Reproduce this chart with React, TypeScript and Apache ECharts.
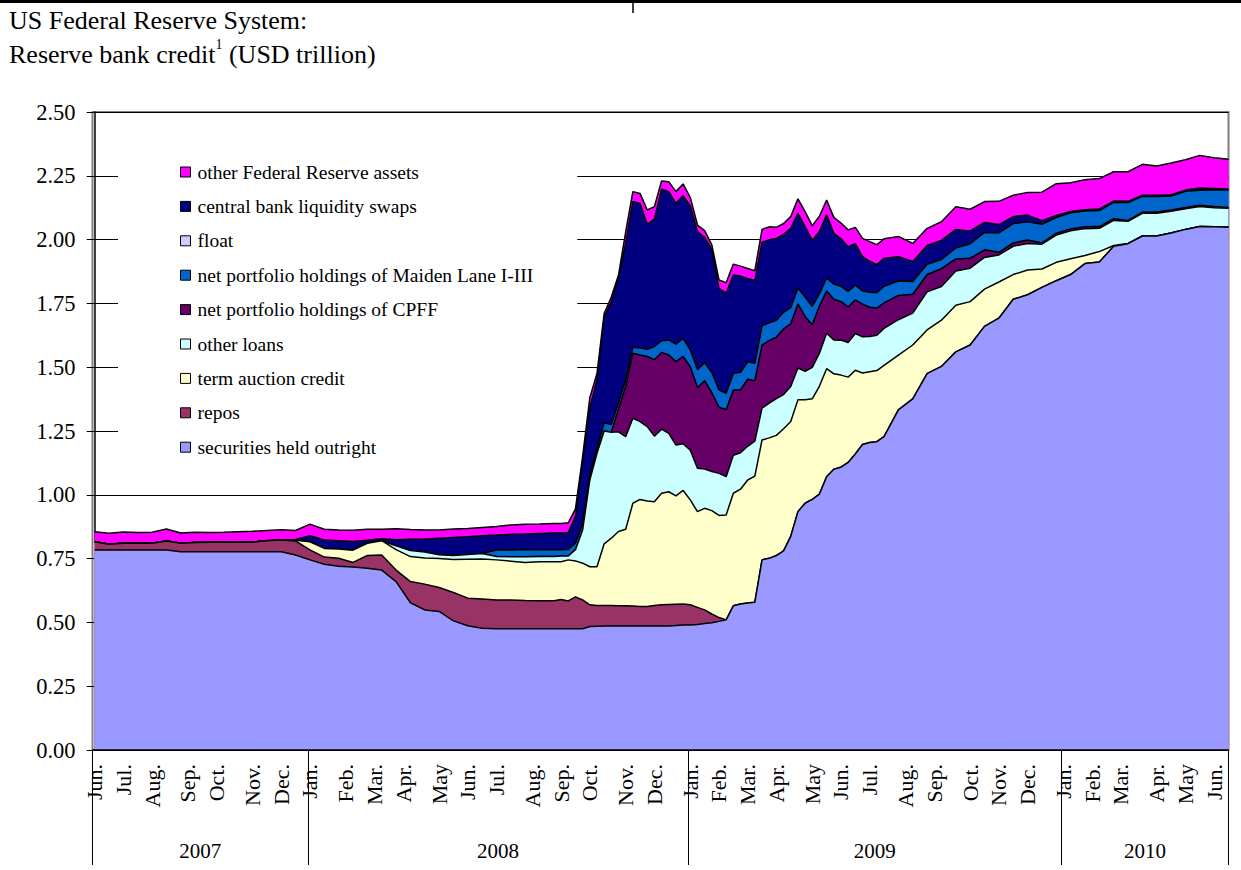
import React, { useEffect, useRef } from "react";
import * as echarts from "echarts";

// ---------- DATA (USD trillion) ----------
const START_DATE = "2007-06-06"; // first weekly observation (Wednesday)
const LAST_WEEK = 158; // 2010-06-16

const sampleDates = [
  "2007-06-06","2007-06-20","2007-07-04","2007-07-18","2007-08-01","2007-08-15","2007-08-29","2007-09-12","2007-09-26","2007-10-10","2007-10-24","2007-11-07","2007-11-21","2007-12-05","2007-12-19",
  "2008-01-02","2008-01-16","2008-01-30","2008-02-13","2008-02-27","2008-03-12","2008-03-26","2008-04-09","2008-04-23","2008-05-07","2008-05-21","2008-06-04","2008-06-18","2008-07-02","2008-07-16","2008-07-30","2008-08-13","2008-08-27",
  "2008-09-03","2008-09-10","2008-09-17","2008-09-24","2008-10-01","2008-10-08","2008-10-15","2008-10-22","2008-10-29","2008-11-05","2008-11-12","2008-11-19","2008-11-26","2008-12-03","2008-12-10","2008-12-17","2008-12-24","2008-12-31",
  "2009-01-07","2009-01-14","2009-01-21","2009-01-28","2009-02-04","2009-02-11","2009-02-18","2009-02-25","2009-03-04","2009-03-11","2009-03-18","2009-03-25","2009-04-01","2009-04-08","2009-04-15","2009-04-22","2009-04-29","2009-05-06","2009-05-13","2009-05-20","2009-05-27","2009-06-03","2009-06-10","2009-06-17","2009-06-24","2009-07-01","2009-07-08","2009-07-15",
  "2009-07-29","2009-08-12","2009-08-26","2009-09-09","2009-09-23","2009-10-07","2009-10-21","2009-11-04","2009-11-18","2009-12-02","2009-12-16","2009-12-30",
  "2010-01-13","2010-01-27","2010-02-10","2010-02-24","2010-03-10","2010-03-24","2010-04-07","2010-04-21","2010-05-05","2010-05-19","2010-06-02","2010-06-16",
];

const securities = [
  0.784,0.784,0.784,0.784,0.784,0.784,0.777,0.777,0.777,0.777,0.777,0.777,0.777,0.777,0.764,
  0.745,0.728,0.72,0.717,0.712,0.705,0.66,0.577,0.549,0.543,0.506,0.487,0.477,0.475,0.475,0.475,0.475,0.475,
  0.475,0.475,0.475,0.475,0.484,0.485,0.486,0.486,0.486,0.486,0.486,0.486,0.486,0.486,0.486,0.486,0.488,0.49,
  0.49,0.492,0.496,0.499,0.504,0.51,0.565,0.572,0.576,0.579,0.745,0.751,0.762,0.78,0.837,0.934,0.967,0.982,1.003,1.071,1.1,1.108,1.127,1.16,1.197,1.205,1.208,1.228,
  1.333,1.376,1.475,1.503,1.56,1.587,1.66,1.692,1.766,1.784,1.813,1.839,
  1.863,1.906,1.912,1.974,1.984,2.014,2.014,2.026,2.04,2.051,2.05,2.048,
];

const repos = [
  0.032,0.022,0.026,0.026,0.026,0.035,0.033,0.036,0.037,0.037,0.037,0.037,0.043,0.046,0.055,
  0.039,0.028,0.031,0.018,0.05,0.059,0.045,0.083,0.101,0.094,0.111,0.108,0.115,0.113,0.113,0.111,0.11,0.11,
  0.115,0.109,0.125,0.113,0.085,0.081,0.08,0.08,0.079,0.079,0.078,0.076,0.076,0.08,0.083,0.084,0.083,0.082,
  0.079,0.067,0.053,0.034,0.015,0,0,0,0,0,0,0,0,0,0,0,0,0,0,0,0,0,0,0,0,0,0,0,
  0,0,0,0,0,0,0,0,0,0,0,0,
  0,0,0,0,0,0,0,0,0,0,0,0,
];

const termAuctionCredit = [
  0,0,0,0,0,0,0,0,0,0,0,0,0,0,0.003,
  0.032,0.034,0.037,0.048,0.048,0.056,0.08,0.098,0.102,0.113,0.129,0.152,0.156,0.157,0.152,0.149,0.153,0.153,
  0.148,0.161,0.141,0.144,0.149,0.152,0.242,0.264,0.291,0.3,0.403,0.42,0.414,0.407,0.437,0.442,0.425,0.445,
  0.411,0.375,0.398,0.405,0.4,0.411,0.441,0.45,0.482,0.494,0.47,0.472,0.471,0.479,0.45,0.438,0.405,0.394,0.423,0.423,0.374,0.361,0.334,0.328,0.28,0.277,0.279,0.279,
  0.214,0.211,0.171,0.181,0.183,0.17,0.146,0.142,0.097,0.097,0.072,0.072,
  0.062,0.032,0.041,0.003,0.001,0,0,0,0,0,0,0,
];

const otherLoans = [
  0,0,0,0,0,0,0,0,0,0,0,0,0,0,0,
  0,0,0,0,0,0,0.015,0.024,0.024,0.015,0.016,0.019,0.022,0.013,0.017,0.022,0.02,0.02,
  0.022,0.015,0.044,0.13,0.34,0.445,0.442,0.415,0.391,0.363,0.333,0.305,0.291,0.257,0.251,0.229,0.199,0.183,
  0.195,0.17,0.154,0.153,0.165,0.15,0.149,0.143,0.132,0.137,0.125,0.136,0.144,0.134,0.137,0.125,0.112,0.123,0.129,0.139,0.133,0.137,0.136,0.144,0.142,0.138,0.138,0.145,
  0.139,0.125,0.149,0.132,0.134,0.131,0.124,0.106,0.111,0.104,0.097,0.107,
  0.11,0.105,0.091,0.098,0.087,0.089,0.089,0.085,0.081,0.079,0.075,0.075,
];

const cpff = [
  0,0,0,0,0,0,0,0,0,0,0,0,0,0,0,
  0,0,0,0,0,0,0,0,0,0,0,0,0,0,0,0,0,0,
  0,0,0,0,0,0,0,0,0.09,0.196,0.255,0.261,0.275,0.299,0.301,0.307,0.327,0.342,
  0.327,0.316,0.346,0.309,0.259,0.262,0.256,0.246,0.263,0.237,0.247,0.245,0.241,0.257,0.246,0.251,0.214,0.167,0.185,0.166,0.159,0.151,0.139,0.132,0.128,0.115,0.107,0.1,
  0.095,0.074,0.068,0.07,0.047,0.039,0.03,0.01,0.013,0.013,0.005,0.007,
  0.007,0.007,0.007,0.007,0.003,0.005,0.005,0.005,0.005,0.005,0.005,0.003,
];

const maidenLane = [
  0,0,0,0,0,0,0,0,0,0,0,0,0,0,0,
  0,0,0,0,0,0,0,0,0,0,0,0,0,0.026,0.027,0.029,0.027,0.027,
  0.025,0.026,0.025,0.026,0.02,0.017,0.032,0.03,0.025,0.026,0.023,0.027,0.028,0.052,0.046,0.059,0.068,0.071,
  0.066,0.07,0.071,0.079,0.068,0.065,0.065,0.069,0.068,0.068,0.075,0.07,0.066,0.065,0.063,0.062,0.077,0.072,0.048,0.051,0.06,0.06,0.061,0.057,0.052,0.059,0.06,0.065,
  0.057,0.05,0.04,0.036,0.043,0.057,0.068,0.076,0.076,0.072,0.073,0.061,
  0.063,0.062,0.063,0.064,0.07,0.062,0.061,0.055,0.063,0.058,0.065,0.068,
];

const floatValues = [
  0,0,0,0,0,0,0,0,0,0,0,0,0,0,0,
  0,0,0,0,0,0,0,0,0,0,0,0,0,0,0,0,0,0,
  0,0,0,0,0,0,0,0,0,0,0,0,0,0,0,0,0,0,
  0,0,0,0,0,0,0,0,0,0,0,0,0,0,0,0,0,0,0,0,0,0,0,0,0,0,0,0,
  0,0,0,0,0,0,0,0,0,0,0,0,
  0,0,0,0,0,0,0,0,0,0,0,0,
];

const liquiditySwaps = [
  0,0,0,0,0,0,0,0,0,0,0,0,0,0,0.003,
  0.024,0.033,0.032,0.034,0.012,0.008,0.024,0.044,0.051,0.065,0.071,0.07,0.07,0.058,0.061,0.06,0.063,0.065,
  0.065,0.066,0.105,0.242,0.262,0.27,0.413,0.482,0.486,0.535,0.571,0.567,0.49,0.499,0.593,0.581,0.552,0.559,
  0.564,0.541,0.49,0.483,0.398,0.392,0.385,0.377,0.327,0.325,0.328,0.325,0.32,0.306,0.311,0.293,0.276,0.259,0.244,0.247,0.199,0.186,0.175,0.163,0.134,0.121,0.11,0.11,
  0.095,0.078,0.074,0.075,0.073,0.05,0.039,0.033,0.027,0.026,0.014,0.009,
  0.005,0.005,0.006,0.005,0.005,0.004,0.005,0.005,0.005,0.009,0.005,0.004,
];

const otherAssets = [
  0.039,0.043,0.044,0.042,0.043,0.047,0.04,0.04,0.038,0.039,0.041,0.043,0.04,0.04,0.035,
  0.045,0.042,0.042,0.044,0.043,0.037,0.043,0.038,0.035,0.032,0.033,0.032,0.032,0.034,0.037,0.039,0.038,0.038,
  0.038,0.038,0.03,0.02,0.04,0.025,0.015,0.018,0.013,0.045,0.039,0.039,0.056,0.049,0.033,0.039,0.046,0.046,
  0.033,0.026,0.027,0.017,0.033,0.041,0.043,0.039,0.039,0.038,0.05,0.051,0.044,0.042,0.046,0.057,0.059,0.057,0.06,0.058,0.062,0.062,0.066,0.064,0.072,0.077,0.078,0.076,
  0.079,0.071,0.067,0.073,0.089,0.085,0.082,0.091,0.084,0.089,0.112,0.124,
  0.113,0.118,0.119,0.115,0.116,0.121,0.114,0.124,0.119,0.128,0.121,0.117,
];

const monthNames = ["Jan.", "Feb.", "Mar.", "Apr.", "May", "Jun.", "Jul.", "Aug.", "Sep.", "Oct.", "Nov.", "Dec."];
const yearLabels = ["2007", "2008", "2009", "2010"];
const yTickFormat = (v: number) => v.toFixed(2);

// stacking order: bottom first
const layers = [
  { name: "securities held outright", color: "#9999FF", data: securities },
  { name: "repos", color: "#993366", data: repos },
  { name: "term auction credit", color: "#FFFFCC", data: termAuctionCredit },
  { name: "other loans", color: "#CCFFFF", data: otherLoans },
  { name: "net portfolio holdings of CPFF", color: "#660066", data: cpff },
  { name: "net portfolio holdings of Maiden Lane I-III", color: "#0066CC", data: maidenLane },
  { name: "float", color: "#CCCCFF", data: floatValues },
  { name: "central bank liquidity swaps", color: "#000080", data: liquiditySwaps },
  { name: "other Federal Reserve assets", color: "#FF00FF", data: otherAssets },
];

// ---------- helpers: weekly positions (week index on a value axis) ----------
const DAY = 86400000;
const t0 = Date.parse(START_DATE);
const weekIndex = (d: string) => Math.round((Date.parse(d) - t0) / (7 * DAY));
const xs = sampleDates.map(weekIndex);

const monthTicks: number[] = [];
const monthLabelAt: Record<string, string> = {};
const yearFirstWeek: number[] = [];
for (let i = 0; i <= LAST_WEEK; i++) {
  const d = new Date(t0 + i * 7 * DAY);
  const p = new Date(t0 + (i - 1) * 7 * DAY);
  if (i === 0 || d.getUTCMonth() !== p.getUTCMonth()) {
    monthTicks.push(i);
    monthLabelAt[String(i)] = monthNames[d.getUTCMonth()];
  }
  if (i === 0 || d.getUTCFullYear() !== p.getUTCFullYear()) yearFirstWeek.push(i);
}
const yearBoundaries = [...yearFirstWeek.map((i) => i - 0.3), LAST_WEEK];
const yearMids = yearLabels.map((_, k) => (yearBoundaries[k] + yearBoundaries[k + 1]) / 2);

// running totals: each layer is drawn as the area under its cumulative top,
// lower layers painted over higher ones, which reproduces the stacked areas
const cumulative: number[][] = [];
layers.forEach((l, k) => {
  cumulative.push(l.data.map((v, j) => (k === 0 ? 0 : cumulative[k - 1][j]) + v));
});

const FONT = '"Liberation Serif", "Times New Roman", Times, serif';

export default function App() {
  const ref = useRef<HTMLDivElement>(null);

  useEffect(() => {
    if (!ref.current) return;
    const chart = echarts.init(ref.current, undefined, { renderer: "svg" });

    const n = layers.length;
    const series = layers
      .map((l, k) => ({
        name: l.name,
        type: "line",
        data: xs.map((x, j) => [x, +cumulative[k][j].toFixed(4)]),
        symbol: "none",
        showSymbol: false,
        silent: true,
        z: 2 + (n - 1 - k),
        lineStyle: { color: "#000", width: 1.5 },
        itemStyle: { color: l.color },
        areaStyle: { color: l.color, opacity: 1, origin: "start" },
        emphasis: { disabled: true },
      }))
      .reverse();

    chart.setOption({
      animation: false,
      backgroundColor: "#fff",
      title: {
        left: 9,
        top: 3,
        padding: 0,
        text: "US Federal Reserve System:\nReserve bank credit{sup|1} (USD trillion)",
        textStyle: {
          fontFamily: FONT,
          fontSize: 26,
          fontWeight: "normal",
          color: "#000",
          lineHeight: 34,
          rich: {
            sup: { fontFamily: FONT, fontSize: 14, lineHeight: 20, verticalAlign: "top", color: "#000" },
          },
        },
      },
      legend: {
        orient: "vertical",
        left: 118,
        top: 150,
        z: 20,
        padding: [12, 44, 10, 62],
        backgroundColor: "#fff",
        icon: "rect",
        itemWidth: 10,
        itemHeight: 10,
        itemGap: 14.4,
        selectedMode: false,
        itemStyle: { borderColor: "#000", borderWidth: 1 },
        textStyle: { fontFamily: FONT, fontSize: 19.5, lineHeight: 19, color: "#000", padding: [0, 0, 0, 2] },
        data: [...layers].reverse().map((l) => ({ name: l.name, itemStyle: { color: l.color } })),
      },
      grid: {
        left: 92.5,
        right: 12.5,
        top: 112,
        bottom: 120,
        show: true,
        borderColor: "#808080",
        borderWidth: 2,
      },
      xAxis: [
        {
          type: "value",
          min: -0.3,
          max: LAST_WEEK,
          z: 20,
          axisLine: { show: true, onZero: false, lineStyle: { color: "#000", width: 1.5 } },
          axisTick: { show: false },
          splitLine: { show: false },
          axisLabel: {
            customValues: monthTicks,
            rotate: 90,
            margin: 14,
            formatter: (v: number) => monthLabelAt[String(Math.round(v))] ?? "",
            fontFamily: FONT,
            fontSize: 22,
            color: "#000",
          },
        },
        {
          type: "value",
          min: -0.3,
          max: LAST_WEEK,
          position: "bottom",
          axisLine: { show: false },
          axisTick: {
            show: true,
            customValues: yearBoundaries,
            length: 115,
            lineStyle: { color: "#000", width: 1 },
          },
          splitLine: { show: false },
          axisLabel: {
            customValues: yearMids,
            margin: 90,
            formatter: (v: number) => {
              const k = yearMids.findIndex((m) => Math.abs(m - v) < 0.01);
              return k >= 0 ? yearLabels[k] : "";
            },
            fontFamily: FONT,
            fontSize: 21,
            color: "#000",
          },
        },
      ],
      yAxis: {
        type: "value",
        min: 0,
        max: 2.5,
        interval: 0.25,
        axisLine: { show: true, lineStyle: { color: "#000", width: 1.5 } },
        axisTick: { show: true, length: 8, lineStyle: { color: "#000" } },
        axisLabel: { formatter: yTickFormat, margin: 17, fontFamily: FONT, fontSize: 22.5, color: "#000" },
        splitLine: { show: true, lineStyle: { color: "#000", width: 1 } },
      },
      graphic: [
        { type: "line", shape: { x1: 0, y1: 1.5, x2: 1241, y2: 1.5 }, style: { stroke: "#000", lineWidth: 3 } },
        { type: "line", shape: { x1: 633, y1: 0, x2: 633, y2: 13 }, style: { stroke: "#000", lineWidth: 1.5 } },
      ],
      series,
    });

    return () => chart.dispose();
  }, []);

  return (
    <div
      ref={ref}
      style={{ position: "absolute", left: 0, top: 0, width: 1241, height: 870, background: "#fff" }}
    />
  );
}
